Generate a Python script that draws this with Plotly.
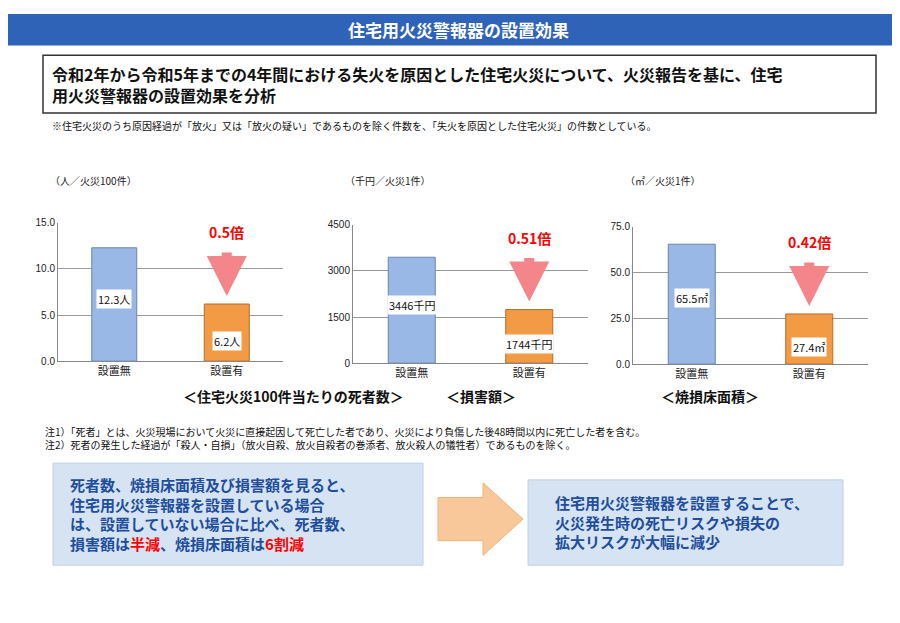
import plotly.graph_objects as go

categories = ["設置無", "設置有"]
deaths = [12.3, 6.2]
damage = [3446, 1744]
area = [65.5, 27.4]
labels_deaths = ["12.3人", "6.2人"]
labels_damage = ["3446千円", "1744千円"]
labels_area = ["65.5㎡", "27.4㎡"]
ratios = ["0.5倍", "0.51倍", "0.42倍"]
ticks_deaths = [0, 5, 10, 15]
ticks_damage = [0, 1500, 3000, 4500]
ticks_area = [0, 25, 50, 75]

W, H = 900, 623
def px(x): return x / W
def py(y): return 1 - y / H

F = "Noto Sans CJK JP"
fig = go.Figure()

charts = [
    (deaths, labels_deaths, ticks_deaths, "%.1f", (50, 275), (213, 354), "（人／火災100件）", "＜住宅火災100件当たりの死者数＞"),
    (damage, labels_damage, ticks_damage, "%d", (345, 580), (215, 356), "（千円／火災1件）", "＜損害額＞"),
    (area, labels_area, ticks_area, "%.1f", (625, 860), (217, 357), "（㎡／火災1件）", "＜焼損床面積＞"),
]
for i, (vals, labs, ticks, fmt, xr, yr, unit, title) in enumerate(charts):
    n = "" if i == 0 else str(i + 1)
    fig.add_trace(go.Bar(x=categories, y=vals, xaxis="x" + n, yaxis="y" + n,
                         marker=dict(color=["#9ab8e6", "#f39a45"],
                                     line=dict(color=["#6a85b0", "#b86a28"], width=1)),
                         width=0.4, showlegend=False, hoverinfo="skip"))
    fig.update_layout(**{
        "xaxis" + n: dict(domain=[px(xr[0]), px(xr[1])], anchor="y" + n,
                          tickfont=dict(size=11, family=F, color="#222"),
                          showline=True, linecolor="#888", ticks=""),
        "yaxis" + n: dict(domain=[py(yr[1]), py(yr[0])], anchor="x" + n,
                          range=[0, ticks[-1]], tickvals=ticks,
                          ticktext=[fmt % t for t in ticks],
                          tickfont=dict(size=10, family="Arial", color="#222"),
                          showgrid=True, gridcolor="#999", showline=True, linecolor="#888"),
    })
    for c, v, l in zip(categories, vals, labs):
        fig.add_annotation(x=c, y=v * 0.55 if c == categories[0] else v * 0.35,
                           xref="x" + n, yref="y" + n, text=l, showarrow=False,
                           bgcolor="white", font=dict(size=11, family=F, color="#111"))
    fig.add_annotation(x=categories[1], y=vals[1], xref="x" + n, yref="y" + n, yshift=8,
                       ax=0, ay=-45, text="", showarrow=True, arrowhead=2, arrowsize=0.8,
                       arrowwidth=10, arrowcolor="#f4858a")
    fig.add_annotation(x=categories[1], y=vals[1], xref="x" + n, yref="y" + n,
                       yshift=72, text="<b>" + ratios[i] + "</b>", showarrow=False,
                       font=dict(size=14, family=F, color="red"))
    fig.add_annotation(x=px(xr[0] - 10), y=py(160), xref="paper", yref="paper",
                       text=unit, showarrow=False, xanchor="left",
                       font=dict(size=10, family=F, color="#222"))
    fig.add_annotation(x=px((xr[0] + xr[1]) / 2 + 10), y=py(390), xref="paper", yref="paper",
                       text="<b>" + title + "</b>", showarrow=False,
                       font=dict(size=14, family=F, color="#111"))

P = dict(xref="paper", yref="paper")
shapes = [
    dict(type="rect", x0=px(0), x1=px(900), y0=py(0), y1=py(32), fillcolor="#2f63b8", line=dict(width=0), **P),
    dict(type="rect", x0=px(35), x1=px(868), y0=py(42), y1=py(101), fillcolor="white", line=dict(color="#333", width=1.5), **P),
    dict(type="rect", x0=px(45), x1=px(415), y0=py(458), y1=py(562), fillcolor="#d6e3f3", line=dict(color="#c0d0e8", width=1), **P),
    dict(type="rect", x0=px(520), x1=px(835), y0=py(475), y1=py(562), fillcolor="#d6e3f3", line=dict(color="#c0d0e8", width=1), **P),
    dict(type="path", path="M %f,%f L %f,%f L %f,%f L %f,%f L %f,%f L %f,%f L %f,%f Z" % (
        px(430), py(493), px(475), py(493), px(475), py(478), px(515), py(515),
        px(475), py(552), px(475), py(537), px(430), py(537)),
        fillcolor="#f8c89a", line=dict(color="#f3b27a", width=1), **P),
]
fig.update_layout(shapes=shapes)

texts = [
    (450, 16, "<b>住宅用火災警報器の設置効果</b>", 17, "white", "center"),
    (42, 72, "<b>令和2年から令和5年までの4年間における失火を原因とした住宅火災について、火災報告を基に、住宅<br>用火災警報器の設置効果を分析</b>", 16, "#111", "left"),
    (42, 114, "※住宅火災のうち原因経過が「放火」又は「放火の疑い」であるものを除く件数を、「失火を原因とした住宅火災」の件数としている。", 10, "#111", "left"),
    (35, 432, "注1）「死者」とは、火災現場において火災に直接起因して死亡した者であり、火災により負傷した後48時間以内に死亡した者を含む。<br>注2）死者の発生した経過が「殺人・自損」（放火自殺、放火自殺者の巻添者、放火殺人の犠牲者）であるものを除く。", 10, "#111", "left"),
    (60, 510, "<b>死者数、焼損床面積及び損害額を見ると、<br>住宅用火災警報器を設置している場合<br>は、設置していない場合に比べ、死者数、<br>損害額は<span style='color:red'>半減</span>、焼損床面積は<span style='color:red'>6割減</span></b>", 15, "#1f4e9c", "left"),
    (545, 518, "<b>住宅用火災警報器を設置することで、<br>火災発生時の死亡リスクや損失の<br>拡大リスクが大幅に減少</b>", 15, "#1f4e9c", "left"),
]
for x, y, t, s, c, a in texts:
    fig.add_annotation(x=px(x), y=py(y), xref="paper", yref="paper", text=t, showarrow=False,
                       xanchor=a, yanchor="middle", align=a, font=dict(size=s, family=F, color=c))

fig.update_layout(width=W, height=H, margin=dict(l=0, r=0, t=0, b=0),
                  paper_bgcolor="white", plot_bgcolor="white")
fig.write_html("out.html")
